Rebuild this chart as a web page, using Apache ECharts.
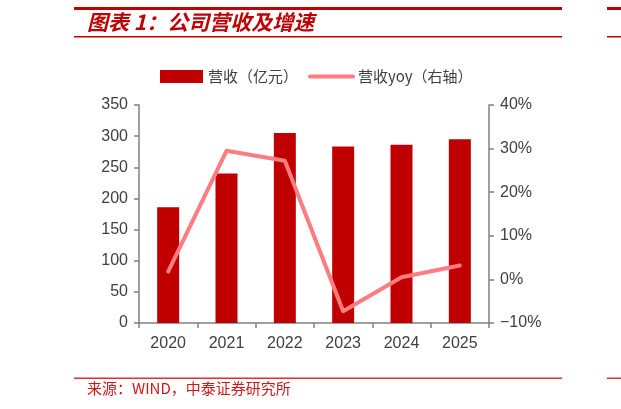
<!DOCTYPE html>
<html>
<head>
<meta charset="utf-8">
<script src="https://cdn.jsdelivr.net/npm/echarts@6/dist/echarts.min.js"></script>
<style>
  html, body { margin: 0; padding: 0; background: #fff; }
  #main { width: 621px; height: 409px; }
</style>
</head>
<body>
<div id="main"></div>
<script>
// 数据
const years = ["2020", "2021", "2022", "2023", "2024", "2025"];
const revenue = [186, 240, 305, 283.5, 286, 295];   // 营收（亿元）
const revenueYoy = [1.8, 29.5, 27.2, -7.3, 0.5, 3.2]; // 营收yoy（%）

const titleText = "图表 1：公司营收及增速";
const sourceText = "来源：WIND，中泰证券研究所";

const labelFont = "'Liberation Sans', Arial, sans-serif";
const cjkFont = "'Noto Sans CJK SC', sans-serif";
const axisColor = "#808080";
const labelColor = "#404040";

const chart = echarts.init(document.getElementById("main"));

const option = {
  animation: false,
  backgroundColor: "#fff",
  legend: {
    left: 155,
    top: 64,
    itemGap: 10,
    itemWidth: 43,
    itemHeight: 13,
    textStyle: { fontSize: 15, color: labelColor, fontFamily: cjkFont },
    data: [
      { name: "营收（亿元）", icon: "rect" },
      {
        name: "营收yoy（右轴）",
        itemStyle: { color: "rgba(0,0,0,0)", borderWidth: 0 },
        lineStyle: { color: "#FF7C80", width: 4 }
      }
    ]
  },
  grid: { left: 139, right: 132, top: 105, bottom: 86 },
  xAxis: {
    type: "category",
    data: years,
    axisLine: { lineStyle: { color: axisColor, width: 1.5 } },
    axisTick: { show: true, length: 5, lineStyle: { color: axisColor, width: 1.5 } },
    axisLabel: { fontSize: 16, color: labelColor, fontFamily: labelFont, margin: 13 }
  },
  yAxis: [
    {
      type: "value",
      min: 0,
      max: 350,
      interval: 50,
      splitLine: { show: false },
      axisLine: { show: true, lineStyle: { color: axisColor, width: 1.5 } },
      axisTick: { show: true, length: 5, lineStyle: { color: axisColor, width: 1.5 } },
      axisLabel: { fontSize: 16, color: labelColor, fontFamily: labelFont, margin: 11 }
    },
    {
      type: "value",
      min: -10,
      max: 40,
      interval: 10,
      splitLine: { show: false },
      axisLine: { show: true, lineStyle: { color: axisColor, width: 1.5 } },
      axisTick: { show: true, length: 5, lineStyle: { color: axisColor, width: 1.5 } },
      axisLabel: {
        fontSize: 16, color: labelColor, fontFamily: labelFont, margin: 11,
        formatter: function (v) {
          return (v < 0 ? "\u2212" + Math.abs(v) : v) + "%";
        }
      }
    }
  ],
  series: [
    {
      name: "营收（亿元）",
      type: "bar",
      data: revenue,
      barWidth: 22,
      itemStyle: { color: "#C00000" }
    },
    {
      name: "营收yoy（右轴）",
      type: "line",
      yAxisIndex: 1,
      data: revenueYoy,
      symbol: "none",
      lineStyle: { color: "#FF7C80", width: 4, cap: "round", join: "round" },
      itemStyle: { color: "#FF7C80" }
    }
  ],
  graphic: [
    // 标题上下的线
    { type: "rect", left: 74, top: 7, shape: { width: 488, height: 3 }, style: { fill: "#C00000" } },
    { type: "rect", left: 74, top: 36, shape: { width: 488, height: 1.5 }, style: { fill: "#C00000" } },
    { type: "rect", left: 607, top: 7, shape: { width: 14, height: 3 }, style: { fill: "#C00000" } },
    { type: "rect", left: 607, top: 36, shape: { width: 14, height: 1.5 }, style: { fill: "#C00000" } },
    {
      type: "text",
      left: 87,
      top: 12,
      style: {
        text: titleText,
        fill: "#C00000",
        font: "italic bold 21px " + cjkFont
      }
    },
    // 来源
    { type: "rect", left: 74, top: 377.5, shape: { width: 488, height: 1.5 }, style: { fill: "#E03030" } },
    { type: "rect", left: 607, top: 377.5, shape: { width: 14, height: 1.5 }, style: { fill: "#E03030" } },
    {
      type: "text",
      left: 87,
      top: 381,
      style: {
        text: sourceText,
        fill: "#D01818",
        font: "15px " + cjkFont
      }
    }
  ]
};

chart.setOption(option);
</script>
</body>
</html>
